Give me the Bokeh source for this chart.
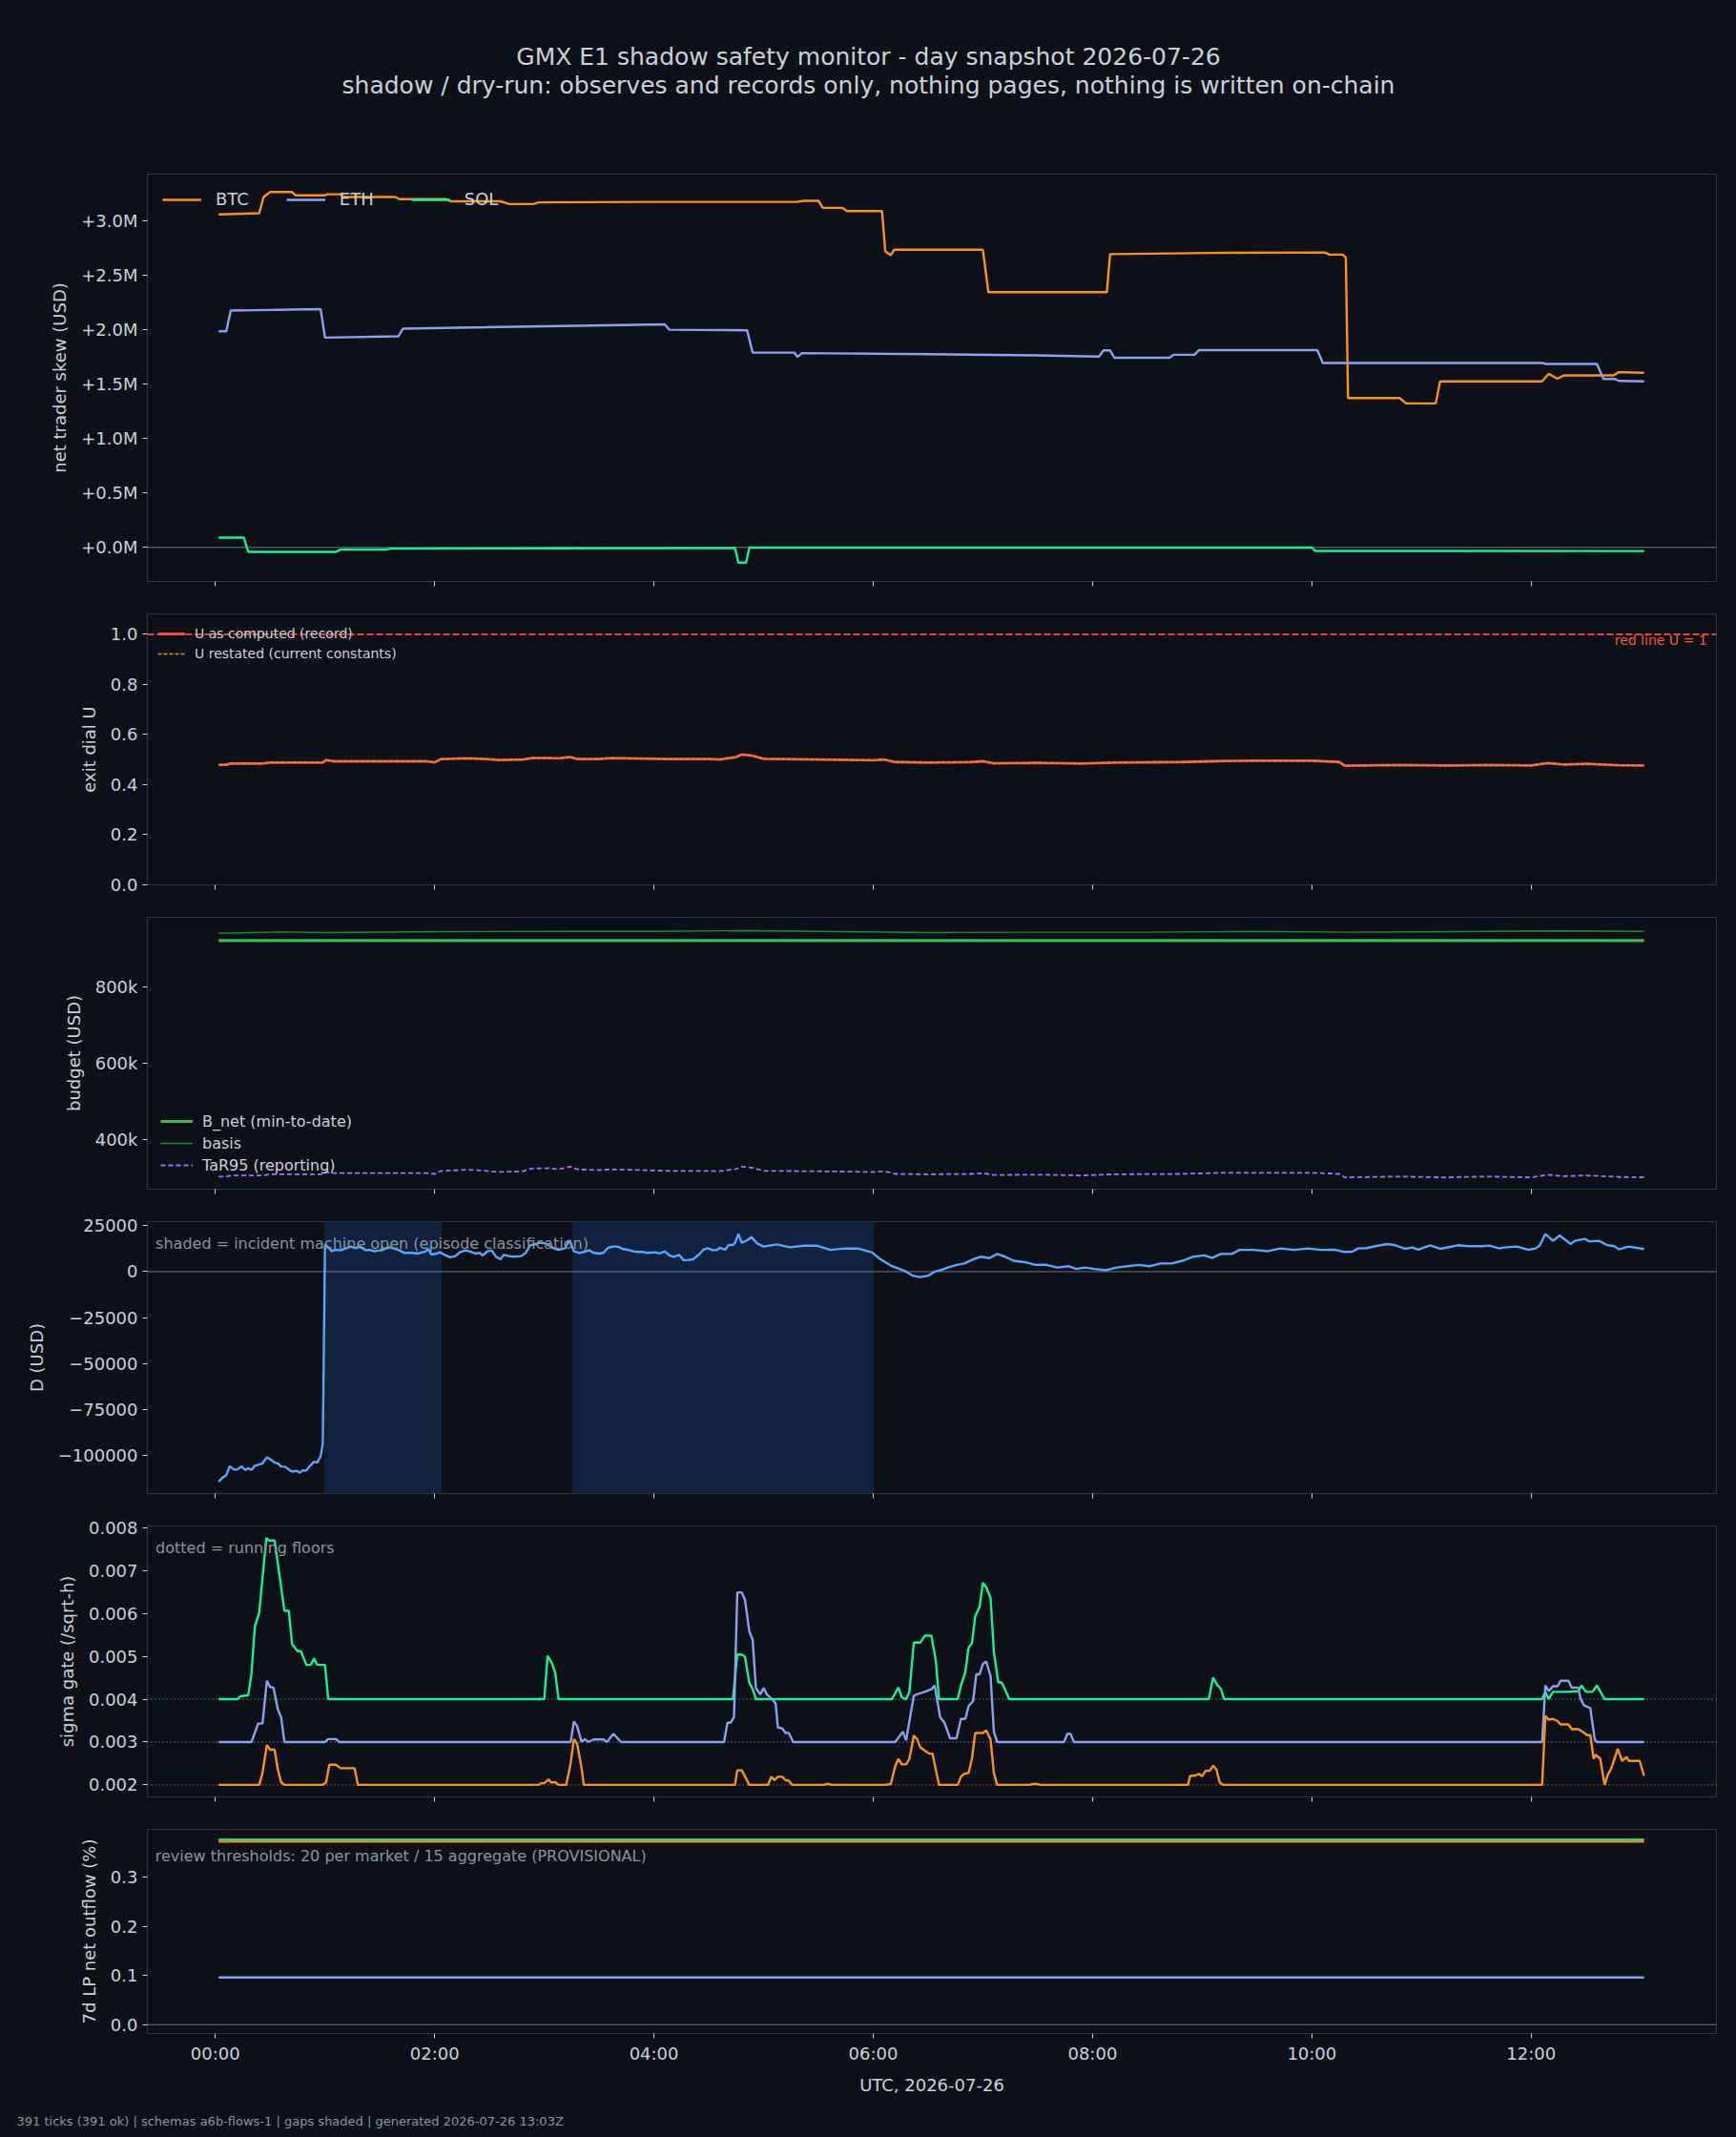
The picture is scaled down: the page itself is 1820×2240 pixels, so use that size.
from bokeh.plotting import figure
from bokeh.models import (Range1d, FixedTicker, BoxAnnotation, Span, Label, Title,
                          CustomJSTickFormatter)
from bokeh.layouts import column
from bokeh.core.properties import value
from bokeh.embed import file_html
from bokeh.resources import INLINE

# ---------------------------------------------------------------- style
FONT = "DejaVu Sans"
BG = "#0d1117"
FG = "#c9d1d9"
MUTED = "#8b949e"
EDGE = "#30363d"
C_BTC = "#f7931a"
C_ETH = "#8da0ee"
C_SOL = "#14f195"
LW = 2.4

# ---------------------------------------------------------------- texts
TITLE = "GMX E1 shadow safety monitor - day snapshot 2026-07-26"
SUBTITLE = "shadow / dry-run: observes and records only, nothing pages, nothing is written on-chain"
FOOTER = "391 ticks (391 ok) | schemas a6b-flows-1 | gaps shaded | generated 2026-07-26 13:03Z"

# ---------------------------------------------------------------- data
# time axis: hours since 00:00 UTC
hour_ticks = [0, 2, 4, 6, 8, 10, 12]

# net trader skew, millions USD: (hour, value)
btc_skew = [(0.03, 3.06), (0.40, 3.07), (0.44, 3.22), (0.50, 3.265), (0.70, 3.265),
            (0.73, 3.235), (1.00, 3.235), (1.02, 3.245), (1.14, 3.245), (1.17, 3.22),
            (1.64, 3.22), (1.68, 3.20), (2.10, 3.20), (2.15, 3.18), (2.60, 3.18),
            (2.68, 3.155), (2.90, 3.155), (2.95, 3.17), (4.00, 3.175), (5.30, 3.175),
            (5.37, 3.185), (5.50, 3.185), (5.54, 3.12), (5.72, 3.12), (5.76, 3.09),
            (6.08, 3.09), (6.11, 2.72), (6.16, 2.685), (6.19, 2.735), (7.00, 2.735),
            (7.05, 2.345), (8.13, 2.345), (8.16, 2.695), (9.20, 2.707), (10.12, 2.71),
            (10.16, 2.69), (10.28, 2.69), (10.31, 2.664), (10.33, 1.372), (10.80, 1.372),
            (10.86, 1.323), (11.13, 1.323), (11.17, 1.525), (12.10, 1.525), (12.16, 1.595),
            (12.24, 1.55), (12.30, 1.58), (12.75, 1.58), (12.80, 1.61), (13.03, 1.605)]
eth_skew = [(0.03, 1.986), (0.10, 1.986), (0.14, 2.176), (0.96, 2.19), (1.00, 1.928),
            (1.67, 1.94), (1.71, 2.01), (4.10, 2.05), (4.14, 2.00), (4.85, 1.995),
            (4.90, 1.79), (5.28, 1.79), (5.31, 1.75), (5.35, 1.785), (6.50, 1.775),
            (7.50, 1.765), (8.06, 1.753), (8.10, 1.81), (8.16, 1.81), (8.20, 1.742),
            (8.70, 1.742), (8.74, 1.77), (8.93, 1.77), (8.97, 1.813), (10.05, 1.813),
            (10.10, 1.694), (12.10, 1.694), (12.14, 1.685), (12.60, 1.685), (12.66, 1.548),
            (12.76, 1.548), (12.80, 1.53), (13.03, 1.525)]
sol_skew = [(0.03, 0.09), (0.26, 0.09), (0.30, -0.041), (1.10, -0.041), (1.14, -0.02),
            (1.55, -0.02), (1.60, -0.012), (3.00, -0.008), (4.74, -0.006), (4.77, -0.14),
            (4.84, -0.14), (4.87, -0.002), (10.00, -0.002), (10.03, -0.032), (13.03, -0.034)]

# exit dial U (record) and its restatement under current constants
u_record = [(0.03, 0.479), (0.10, 0.479), (0.14, 0.484), (0.43, 0.484), (0.50, 0.488),
            (0.98, 0.488), (1.01, 0.498), (1.07, 0.493), (1.92, 0.493), (2.00, 0.489),
            (2.06, 0.502), (2.31, 0.505), (2.47, 0.502), (2.58, 0.498), (2.81, 0.500),
            (2.88, 0.506), (3.05, 0.506), (3.13, 0.505), (3.24, 0.510), (3.30, 0.502),
            (3.50, 0.502), (3.60, 0.506), (3.75, 0.505), (4.13, 0.502), (4.50, 0.502),
            (4.60, 0.500), (4.75, 0.510), (4.80, 0.520), (4.90, 0.515), (5.00, 0.503),
            (5.50, 0.500), (6.00, 0.497), (6.10, 0.500), (6.20, 0.490), (6.50, 0.488),
            (6.90, 0.490), (7.00, 0.493), (7.10, 0.485), (7.50, 0.487), (7.90, 0.484),
            (8.20, 0.488), (8.80, 0.490), (9.20, 0.494), (9.50, 0.495), (10.00, 0.495),
            (10.25, 0.490), (10.30, 0.475), (10.80, 0.478), (11.20, 0.476), (11.60, 0.478),
            (12.00, 0.476), (12.15, 0.486), (12.30, 0.480), (12.50, 0.483), (12.80, 0.477),
            (13.03, 0.476)]
u_restated = list(u_record)
u_red_line = 1.0

# loss budget, USD
b_net = [(0.03, 922000), (13.03, 922000)]
basis = [(0.03, 941000), (0.60, 944500), (1.00, 943000), (2.10, 945500), (3.20, 946500),
         (4.00, 946000), (4.85, 948000), (5.50, 946000), (6.50, 943000), (7.50, 944000),
         (8.50, 944000), (9.50, 946000), (10.30, 944000), (11.00, 945000), (12.20, 947500),
         (13.03, 946000)]
tar95 = [(0.03, 304000), (0.10, 304000), (0.14, 307000), (0.43, 307000), (0.50, 310000),
         (0.98, 310000), (1.01, 316000), (1.07, 313000), (1.92, 313000), (2.00, 311000),
         (2.06, 319000), (2.31, 322000), (2.47, 319000), (2.58, 316000), (2.81, 318000),
         (2.88, 325000), (3.05, 326000), (3.13, 323000), (3.24, 330000), (3.30, 323000),
         (3.50, 321000), (3.60, 323000), (3.75, 322000), (4.13, 319000), (4.50, 319000),
         (4.60, 318000), (4.75, 324000), (4.80, 330000), (4.90, 327000), (5.00, 319000),
         (5.50, 318000), (6.00, 316000), (6.10, 318000), (6.20, 311000), (6.50, 310000),
         (6.90, 311000), (7.00, 313000), (7.10, 308000), (7.50, 309000), (7.90, 307000),
         (8.20, 310000), (8.80, 311000), (9.20, 314000), (9.50, 314000), (10.00, 314000),
         (10.25, 311000), (10.30, 302000), (10.80, 304000), (11.20, 302000), (11.60, 304000),
         (12.00, 302000), (12.15, 309000), (12.30, 305000), (12.50, 307000), (12.80, 303000),
         (13.03, 302000)]

# pool delta D, USD
d_usd = [(0.03, -114300), (0.07, -111900), (0.10, -110800), (0.13, -106000), (0.17, -107700),
         (0.20, -107700), (0.24, -106000), (0.27, -107900), (0.30, -107000), (0.33, -107900),
         (0.36, -105600), (0.40, -105000), (0.43, -104300), (0.47, -101100), (0.51, -102500),
         (0.54, -103900), (0.57, -104300), (0.60, -106000), (0.64, -106300), (0.67, -107700),
         (0.70, -108800), (0.74, -108400), (0.77, -109400), (0.80, -108100), (0.83, -108200),
         (0.86, -106000), (0.90, -103400), (0.93, -103900), (0.96, -100500), (0.98, -93600),
         (1.00, 14700), (1.03, 13300), (1.06, 11100), (1.09, 11900), (1.14, 11600),
         (1.19, 12600), (1.23, 13650), (1.28, 12800), (1.32, 13650), (1.37, 11600),
         (1.41, 11900), (1.45, 11100), (1.50, 11600), (1.54, 12300), (1.59, 13300),
         (1.63, 12450), (1.68, 11600), (1.72, 10200), (1.79, 10200), (1.85, 9850),
         (1.92, 11100), (1.94, 12450), (1.97, 9330), (2.01, 9680), (2.05, 10550),
         (2.10, 8820), (2.14, 7780), (2.19, 8470), (2.23, 10550), (2.28, 11600),
         (2.32, 10890), (2.37, 9850), (2.41, 10200), (2.44, 8820), (2.48, 11100),
         (2.52, 11600), (2.56, 8120), (2.60, 6740), (2.63, 9160), (2.68, 8470),
         (2.72, 8120), (2.79, 8470), (2.83, 10200), (2.87, 14350), (2.92, 15040),
         (2.96, 15730), (3.01, 15390), (3.05, 14000), (3.10, 12300), (3.14, 11930),
         (3.19, 12800), (3.23, 17120), (3.27, 11060), (3.32, 10200), (3.36, 10720),
         (3.41, 11580), (3.45, 10200), (3.50, 9850), (3.54, 10200), (3.58, 12970),
         (3.63, 13660), (3.67, 13660), (3.72, 12270), (3.76, 11930), (3.81, 11060),
         (3.85, 10720), (3.90, 10720), (3.94, 10200), (4.01, 10550), (4.05, 9850),
         (4.10, 11060), (4.14, 8820), (4.18, 8120), (4.23, 9160), (4.27, 6220),
         (4.32, 6400), (4.36, 6740), (4.41, 9330), (4.45, 11930), (4.49, 12790),
         (4.54, 11580), (4.58, 11930), (4.60, 12970), (4.65, 11930), (4.68, 14520),
         (4.72, 14520), (4.74, 15730), (4.77, 20570), (4.80, 15730), (4.85, 17120),
         (4.89, 18840), (4.94, 15390), (5.00, 13660), (5.12, 14800), (5.24, 13300),
         (5.37, 14100), (5.49, 14100), (5.61, 11850), (5.74, 12600), (5.86, 12600),
         (5.99, 10400), (6.05, 7400), (6.11, 5200), (6.17, 2960), (6.24, 1480),
         (6.30, 0), (6.36, -2200), (6.43, -2960), (6.50, -2200), (6.56, 0),
         (6.61, 740), (6.68, 2200), (6.76, 3700), (6.83, 4440), (6.91, 6670),
         (6.98, 8150), (7.06, 7400), (7.13, 9630), (7.20, 8150), (7.28, 5930),
         (7.38, 5190), (7.48, 3700), (7.58, 3700), (7.68, 2220), (7.78, 2960),
         (7.85, 1480), (7.93, 2220), (8.02, 1480), (8.12, 740), (8.22, 2220),
         (8.32, 2960), (8.42, 3700), (8.52, 2960), (8.62, 4440), (8.72, 4440),
         (8.82, 5930), (8.92, 8150), (9.02, 8890), (9.09, 7400), (9.17, 9630),
         (9.27, 9630), (9.34, 11850), (9.47, 11850), (9.59, 11100), (9.71, 12600),
         (9.84, 11850), (9.96, 12600), (10.09, 11850), (10.21, 11930), (10.30, 10720),
         (10.37, 10890), (10.42, 12620), (10.50, 12800), (10.59, 14000), (10.69, 15040),
         (10.76, 14350), (10.85, 12450), (10.92, 13140), (10.97, 11930), (11.08, 14350),
         (11.17, 12450), (11.26, 13490), (11.33, 14350), (11.43, 13830), (11.55, 13830),
         (11.62, 14170), (11.71, 12620), (11.75, 13140), (11.87, 13660), (11.97, 11930),
         (12.04, 12620), (12.08, 14350), (12.13, 20580), (12.20, 16770), (12.26, 19710),
         (12.36, 15040), (12.40, 16770), (12.49, 17810), (12.53, 16430), (12.62, 16770),
         (12.69, 14520), (12.76, 13830), (12.80, 12100), (12.89, 13660), (13.03, 12280)]
# incident machine open: (start hour, end hour)
incident_windows = [(1.00, 2.06), (3.26, 6.00)]

# sigma gate, /sqrt-h, with running floors
sigma_sol = [(0.03, 0.004), (0.20, 0.004), (0.23, 0.00407), (0.30, 0.00409), (0.33, 0.00461),
             (0.36, 0.00569), (0.40, 0.00602), (0.465, 0.00776), (0.49, 0.0077), (0.54, 0.0077),
             (0.59, 0.0068), (0.63, 0.00606), (0.67, 0.00606), (0.70, 0.00528), (0.75, 0.00512),
             (0.78, 0.00512), (0.83, 0.0048), (0.87, 0.0048), (0.90, 0.00495), (0.93, 0.0048),
             (1.00, 0.0048), (1.03, 0.004), (3.00, 0.004), (3.03, 0.00501), (3.07, 0.00484),
             (3.10, 0.00461), (3.13, 0.004), (4.72, 0.004), (4.76, 0.00504), (4.80, 0.00504),
             (4.83, 0.00499), (4.87, 0.00438), (4.90, 0.00424), (4.93, 0.004), (6.17, 0.004),
             (6.23, 0.00427), (6.26, 0.00404), (6.30, 0.004), (6.33, 0.00417), (6.37, 0.00532),
             (6.43, 0.00532), (6.47, 0.00548), (6.53, 0.00548), (6.57, 0.00491), (6.60, 0.004),
             (6.77, 0.004), (6.80, 0.00432), (6.84, 0.00463), (6.87, 0.00521), (6.90, 0.0053),
             (6.93, 0.00593), (6.97, 0.00616), (7.00, 0.00672), (7.03, 0.00661), (7.07, 0.00636),
             (7.10, 0.0051), (7.14, 0.00439), (7.17, 0.00439), (7.20, 0.00424), (7.24, 0.004),
             (9.06, 0.004), (9.10, 0.0045), (9.14, 0.00432), (9.17, 0.00424), (9.20, 0.004),
             (12.10, 0.004), (12.13, 0.00417), (12.16, 0.004), (12.20, 0.00417), (12.34, 0.00417),
             (12.43, 0.00419), (12.46, 0.00432), (12.50, 0.00417), (12.56, 0.00417),
             (12.60, 0.00432), (12.67, 0.004), (13.03, 0.004)]
sigma_eth = [(0.03, 0.003), (0.33, 0.003), (0.39, 0.00343), (0.43, 0.00343), (0.47, 0.00443),
             (0.50, 0.00428), (0.53, 0.00427), (0.57, 0.00376), (0.60, 0.00358), (0.63, 0.003),
             (1.00, 0.003), (1.03, 0.00307), (1.10, 0.00307), (1.13, 0.003), (3.24, 0.003),
             (3.27, 0.00348), (3.30, 0.00337), (3.34, 0.003), (3.37, 0.00307), (3.40, 0.003),
             (3.45, 0.00306), (3.54, 0.00306), (3.57, 0.003), (3.63, 0.00319), (3.70, 0.003),
             (4.64, 0.003), (4.67, 0.00345), (4.70, 0.00345), (4.73, 0.00358), (4.76, 0.00649),
             (4.80, 0.00649), (4.83, 0.00632), (4.87, 0.00558), (4.90, 0.00539), (4.93, 0.00426),
             (4.97, 0.00411), (5.00, 0.00426), (5.03, 0.00411), (5.08, 0.00399), (5.11, 0.0039),
             (5.13, 0.00334), (5.17, 0.00332), (5.20, 0.00321), (5.23, 0.00321), (5.27, 0.003),
             (6.20, 0.003), (6.27, 0.00324), (6.30, 0.00304), (6.37, 0.00408), (6.42, 0.00413),
             (6.47, 0.00417), (6.53, 0.00423), (6.56, 0.00432), (6.61, 0.00358), (6.65, 0.00345),
             (6.70, 0.00309), (6.76, 0.00309), (6.80, 0.00354), (6.84, 0.00354), (6.87, 0.00384),
             (6.91, 0.00395), (6.94, 0.00458), (6.97, 0.00458), (7.00, 0.00482), (7.03, 0.00488),
             (7.07, 0.00454), (7.10, 0.00324), (7.13, 0.003), (7.74, 0.003), (7.77, 0.00319),
             (7.80, 0.00319), (7.83, 0.003), (12.10, 0.003), (12.13, 0.00432), (12.16, 0.00419),
             (12.20, 0.0043), (12.24, 0.0043), (12.27, 0.00443), (12.34, 0.00443),
             (12.37, 0.00427), (12.43, 0.00427), (12.45, 0.00402), (12.48, 0.00386),
             (12.54, 0.00379), (12.58, 0.00306), (12.60, 0.003), (13.03, 0.003)]
sigma_btc = [(0.03, 0.002), (0.40, 0.002), (0.43, 0.00228), (0.47, 0.00293), (0.50, 0.00282),
             (0.54, 0.00282), (0.57, 0.00236), (0.60, 0.00206), (0.63, 0.002), (0.98, 0.002),
             (1.01, 0.00206), (1.04, 0.00247), (1.10, 0.00247), (1.14, 0.00239), (1.27, 0.00239),
             (1.30, 0.002), (2.95, 0.002), (2.97, 0.00204), (3.00, 0.00204), (3.04, 0.00213),
             (3.06, 0.00206), (3.10, 0.00206), (3.13, 0.002), (3.20, 0.002), (3.24, 0.0025),
             (3.27, 0.00307), (3.30, 0.00295), (3.34, 0.00239), (3.36, 0.002), (4.74, 0.002),
             (4.76, 0.00234), (4.80, 0.00234), (4.87, 0.002), (5.04, 0.002), (5.07, 0.00219),
             (5.10, 0.00211), (5.13, 0.00219), (5.17, 0.00219), (5.20, 0.00211), (5.23, 0.0021),
             (5.26, 0.002), (5.55, 0.002), (5.57, 0.00202), (5.60, 0.00202), (5.62, 0.002),
             (6.11, 0.002), (6.16, 0.00202), (6.20, 0.00243), (6.23, 0.00261), (6.26, 0.00248),
             (6.30, 0.00248), (6.33, 0.00261), (6.37, 0.00315), (6.40, 0.00307), (6.43, 0.00287),
             (6.47, 0.0028), (6.51, 0.00273), (6.54, 0.00273), (6.60, 0.002), (6.77, 0.002),
             (6.80, 0.00219), (6.83, 0.00226), (6.87, 0.00228), (6.90, 0.00261), (6.93, 0.00321),
             (7.00, 0.00321), (7.03, 0.00327), (7.07, 0.00306), (7.10, 0.00228), (7.13, 0.002),
             (7.43, 0.002), (7.45, 0.00202), (7.50, 0.00202), (7.52, 0.002), (8.87, 0.002),
             (8.89, 0.00221), (8.94, 0.00222), (8.97, 0.00226), (9.00, 0.0022), (9.03, 0.00233),
             (9.07, 0.00233), (9.10, 0.00245), (9.13, 0.00236), (9.16, 0.00206), (9.19, 0.002),
             (12.10, 0.002), (12.13, 0.00361), (12.16, 0.00352), (12.20, 0.00354),
             (12.24, 0.00349), (12.27, 0.00341), (12.34, 0.00341), (12.37, 0.0033),
             (12.43, 0.0033), (12.47, 0.00324), (12.51, 0.00316), (12.54, 0.00316),
             (12.57, 0.00261), (12.59, 0.0027), (12.63, 0.00261), (12.67, 0.002),
             (12.70, 0.00224), (12.73, 0.00238), (12.79, 0.00284), (12.83, 0.00256),
             (12.87, 0.00265), (12.89, 0.00256), (12.99, 0.00256), (13.03, 0.00221)]
sigma_floors = {"BTC": 0.002, "ETH": 0.003, "SOL": 0.004}

# 7-day LP net outflow, percent
outflow_btc = [(0.03, 0.372), (13.03, 0.372)]
outflow_eth = [(0.03, 0.096), (13.03, 0.096)]
outflow_sol = [(0.03, 0.376), (13.03, 0.376)]


def xs(series):
    return [t for t, _ in series]


def ys(series):
    return [v for _, v in series]


# ---------------------------------------------------------------- helpers
FRAME_W = 1645
LEFT = 154
RIGHT = 21
x_range = Range1d(-0.62, 13.69)


def fmt(code):
    return CustomJSTickFormatter(code=code)


def panel(frame_h, y0, y1, yticks, yfmt, ylabel, bottom=22, last=False):
    p = figure(frame_width=FRAME_W, frame_height=frame_h, x_range=x_range,
               y_range=Range1d(y0, y1), min_border_left=LEFT, min_border_right=RIGHT,
               min_border_top=12, min_border_bottom=bottom,
               output_backend="svg", toolbar_location=None,
               background_fill_color=BG, border_fill_color=BG,
               outline_line_color=EDGE, outline_line_width=1.2)
    p.grid.visible = False
    for ax in p.axis:
        ax.axis_line_color = None
        ax.major_tick_line_color = FG
        ax.major_tick_line_width = 1
        ax.major_tick_out = 5
        ax.major_tick_in = 0
        ax.minor_tick_line_color = None
        ax.major_label_text_color = FG
        ax.major_label_text_font = FONT
        ax.major_label_text_font_size = "18px"
        ax.major_label_standoff = 5
        ax.axis_label_text_color = FG
        ax.axis_label_text_font = FONT
        ax.axis_label_text_font_size = "18px"
        ax.axis_label_text_font_style = "normal"
        ax.axis_label_standoff = 9
    p.xaxis.ticker = FixedTicker(ticks=hour_ticks)
    if last:
        p.xaxis.formatter = fmt("var h = Math.round(tick); return (h < 10 ? '0' : '') + h + ':00';")
        p.xaxis.axis_label = "UTC, 2026-07-26"
    else:
        p.xaxis.formatter = fmt("return '';")
        p.xaxis.major_label_text_font_size = "1px"
        p.xaxis.major_label_standoff = 0
    p.yaxis.ticker = FixedTicker(ticks=yticks)
    p.yaxis.formatter = fmt(yfmt)
    p.yaxis.axis_label = ylabel
    return p


def style_legend(p, loc, size, glyph_w, glyph_h, standoff, spacing, margin, padding,
                 orientation="vertical"):
    lg = p.legend[0]
    lg.location = loc
    lg.orientation = orientation
    lg.background_fill_alpha = 0
    lg.border_line_alpha = 0
    lg.label_text_color = FG
    lg.label_text_font = FONT
    lg.label_text_font_size = size
    lg.glyph_width = glyph_w
    lg.glyph_height = glyph_h
    lg.label_standoff = standoff
    lg.spacing = spacing
    lg.margin = margin
    lg.padding = padding


def note(p, x, y, text, color=MUTED, size="16px", align="left"):
    p.add_layout(Label(x=x, y=y, text=text, text_color=color, text_font=FONT,
                       text_font_size=size, text_align=align, text_baseline="middle"))


def strip(h, top=0):
    # text-only band sharing the panels' borders; x and y are page pixels
    p = figure(frame_width=FRAME_W, frame_height=h, x_range=Range1d(LEFT, LEFT + FRAME_W),
               y_range=Range1d(h, 0), min_border_left=LEFT, min_border_right=RIGHT,
               min_border_top=top, min_border_bottom=0, x_axis_location=None,
               y_axis_location=None, output_backend="svg", toolbar_location=None,
               background_fill_color=BG, border_fill_color=BG, outline_line_color=None)
    p.grid.visible = False
    return p


# ---------------------------------------------------------------- header
head = strip(170)
head.text(x=[910, 910], y=[58.6, 88.6], text=[TITLE, SUBTITLE],
          text_font=value(FONT), text_font_size=value("25px"), text_color=FG,
          text_align="center", text_baseline="middle")

# ---------------------------------------------------------------- 1: skew
p1 = panel(427, -0.313, 3.43, [0, 0.5, 1.0, 1.5, 2.0, 2.5, 3.0],
           "return '+' + tick.toFixed(1) + 'M';", "net trader skew (USD)")
p1.add_layout(Span(location=0, dimension="width", line_color="#6e7681",
                   line_width=1, level="underlay"))
p1.line(xs(btc_skew), ys(btc_skew), line_color=C_BTC, line_width=LW, legend_label="BTC")
p1.line(xs(eth_skew), ys(eth_skew), line_color=C_ETH, line_width=LW, legend_label="ETH")
p1.line(xs(sol_skew), ys(sol_skew), line_color=C_SOL, line_width=LW, legend_label="SOL")
style_legend(p1, "top_left", "18px", 41, 20, 15, 39, 4, 12, orientation="horizontal")

# ---------------------------------------------------------------- 2: exit dial
p2 = panel(284, 0, 1.081, [0, 0.2, 0.4, 0.6, 0.8, 1.0], "return tick.toFixed(1);",
           "exit dial U")
p2.add_layout(Span(location=u_red_line, dimension="width", line_color="#f85149",
                   line_width=1.8, line_dash="7 3"))
p2.line(xs(u_record), ys(u_record), line_color="#f85149", line_width=2.8,
        legend_label="U as computed (record)")
p2.line(xs(u_restated), ys(u_restated), line_color="#d29922", line_width=1.5,
        line_dash="4 2", legend_label="U restated (current constants)")
note(p2, 13.604, 0.977, "red line U = 1", color="#f85149", size="14px", align="right")
style_legend(p2, "top_left", "14px", 29, 20, 10, 1, 2, 9)

# ---------------------------------------------------------------- 3: budget
p3 = panel(285, 271000, 983000, [400000, 600000, 800000],
           "return (tick / 1000).toFixed(0) + 'k';", "budget (USD)")
p3.line(xs(b_net), ys(b_net), line_color="#3fb950", line_width=3.2,
        legend_label="B_net (min-to-date)")
p3.line(xs(basis), ys(basis), line_color="#238636", line_width=1.4, legend_label="basis")
p3.line(xs(tar95), ys(tar95), line_color="#a371f7", line_width=1.8, line_dash="5 3",
        legend_label="TaR95 (reporting)")
style_legend(p3, "bottom_left", "16px", 34, 22, 10, 1, 2, 12)

# ---------------------------------------------------------------- 4: D
p4 = panel(285, -120750, 27230, [-100000, -75000, -50000, -25000, 0, 25000],
           "return tick < 0 ? '\u2212' + Math.abs(tick).toFixed(0) : tick.toFixed(0);",
           "D (USD)")
for start, end in incident_windows:
    p4.add_layout(BoxAnnotation(left=start, right=end, fill_color="#112240", fill_alpha=1,
                                line_color="#1c3a64", line_width=1, level="underlay"))
p4.add_layout(Span(location=0, dimension="width", line_color="#6e7681",
                   line_width=1, level="underlay"))
p4.line(xs(d_usd), ys(d_usd), line_color="#58a6ff", line_width=LW)
note(p4, -0.545, 15500, "shaded = incident machine open (episode classification)")

# ---------------------------------------------------------------- 5: sigma gate
p5 = panel(284, 0.00172, 0.00804,
           [0.002, 0.003, 0.004, 0.005, 0.006, 0.007, 0.008],
           "return tick.toFixed(3);", "sigma gate (/sqrt-h)")
for name, color in (("BTC", C_BTC), ("ETH", C_ETH), ("SOL", C_SOL)):
    p5.add_layout(Span(location=sigma_floors[name], dimension="width", line_color=color,
                       line_width=1.3, line_alpha=0.8, line_dash="1 3", level="underlay"))
p5.line(xs(sigma_sol), ys(sigma_sol), line_color=C_SOL, line_width=LW)
p5.line(xs(sigma_eth), ys(sigma_eth), line_color=C_ETH, line_width=LW)
p5.line(xs(sigma_btc), ys(sigma_btc), line_color=C_BTC, line_width=LW)
note(p5, -0.545, 0.007518, "dotted = running floors")

# ---------------------------------------------------------------- 6: LP outflow
p6 = panel(214, -0.018, 0.397, [0.0, 0.1, 0.2, 0.3], "return tick.toFixed(1);",
           "7d LP net outflow (%)", bottom=69, last=True)
p6.add_layout(Span(location=0, dimension="width", line_color="#6e7681",
                   line_width=1, level="underlay"))
p6.line(xs(outflow_sol), ys(outflow_sol), line_color=C_SOL, line_width=2.4)
p6.line(xs(outflow_btc), ys(outflow_btc), line_color=C_BTC, line_width=2.4)
p6.line(xs(outflow_eth), ys(outflow_eth), line_color=C_ETH, line_width=2.6)
note(p6, -0.548, 0.3426, "review thresholds: 20 per market / 15 aggregate (PROVISIONAL)")

# ---------------------------------------------------------------- footer
# a thin frame carrying a left-aligned title pulled back to the page margin
foot = strip(6, top=34)
foot.add_layout(Title(text=FOOTER, align="left", offset=-137, standoff=6,
                      vertical_align="middle", text_font=FONT, text_font_size="13px",
                      text_font_style="normal", text_color=MUTED), "above")

layout = column(head, p1, p2, p3, p4, p5, p6, foot, spacing=0,
                styles={"background-color": BG})
open("out.html", "w").write(file_html(layout, INLINE))
